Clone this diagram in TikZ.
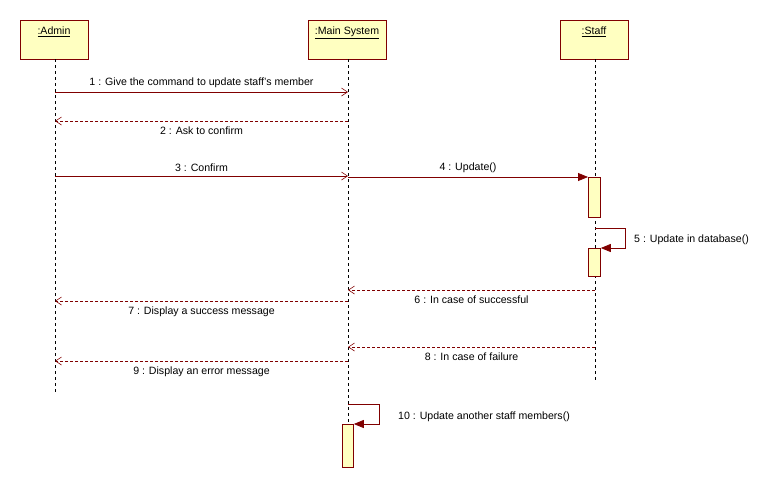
\documentclass[tikz,border=0pt]{standalone}
\usepackage{fontspec}
\setmainfont{Liberation Sans}
\usetikzlibrary{arrows.meta}
\definecolor{umlred}{HTML}{800000}
\definecolor{umlfill}{HTML}{FFFFC1}
\begin{document}
\begin{tikzpicture}[x=1pt,y=-1pt,
  objbox/.style={draw=umlred,fill=umlfill,line width=0.9pt,minimum width=68pt,minimum height=39pt,anchor=north west,inner sep=0pt},
  actbox/.style={draw=umlred,fill=umlfill,line width=0.8pt,inner sep=0pt},
  life/.style={draw=black,line width=0.6pt,dash pattern=on 3pt off 3pt},
  sync/.style={draw=umlred,line width=0.8pt,-{Triangle[length=10pt,width=8pt]}},
  call/.style={draw=umlred,line width=0.8pt,-{Straight Barb[length=6pt,width=8pt,line width=0.6pt]}},
  reply/.style={draw=umlred,line width=0.6pt,dash pattern=on 3pt off 2pt,-{Straight Barb[length=6pt,width=8pt,line width=0.6pt]}},
  lbl/.style={font=\fontsize{10.6}{12}\selectfont,inner sep=0pt},
  ttl/.style={font=\fontsize{10.6}{12}\selectfont,inner sep=0pt,anchor=north}]
\useasboundingbox (0,0) rectangle (771,488);
% objects
\node[objbox] (admin) at (20,20) {};
\node[objbox,minimum width=78pt] (sys) at (308,20) {};
\node[objbox] (staff) at (560,20) {};
\node[ttl] (tadmin) at (54,27) {\underline{:Admin}};
\node[ttl] (tsys) at (347,27) {\underline{:Main System}};
\node[ttl] (tstaff) at (594,27) {\underline{:Staff}};
% lifeline ends
\coordinate (aend) at (55,392);
\coordinate (send) at (348,424);
\coordinate (tend) at (595,381);
\draw[life] (55,59) -- (aend);
\draw[life] (348,59) -- (send);
\draw[life] (595,59) -- (tend);
% activations
\node[actbox,minimum width=12pt,minimum height=40pt,anchor=north west] (act1) at (588,177) {};
\node[actbox,minimum width=12pt,minimum height=28pt,anchor=north west] (act2) at (588,248) {};
\node[actbox,minimum width=11pt,minimum height=43pt,anchor=north west] (act3) at (342,424) {};
% message points
\coordinate (a1) at (55,92);  \coordinate (s1) at (348,92);
\coordinate (a2) at (55,121); \coordinate (s2) at (348,121);
\coordinate (a3) at (55,176); \coordinate (s3) at (348,176);
\coordinate (s4) at (348,177);
\coordinate (t6) at (595,290); \coordinate (s6) at (348,290);
\coordinate (s7) at (348,301); \coordinate (a7) at (55,301);
\coordinate (t8) at (595,347); \coordinate (s8) at (348,347);
\coordinate (s9) at (348,361); \coordinate (a9) at (55,361);
\coordinate (t5) at (595,228);
\coordinate (s10) at (348,404);
% messages
\draw[call] (a1) -- node[lbl,above=4pt] (m1) {1 : Give the command to update staff's member} (s1);
\draw[reply] (s2) -- node[lbl,below=6pt] (m2) {2 : Ask to confirm} (a2);
\draw[call] (a3) -- node[lbl,above=4pt] (m3) {3 : Confirm} (s3);
\draw[sync] (s4) -- node[lbl,above=4pt] (m4) {4 : Update()} (act1.north west);
\draw[sync] (t5) -- (625,228) -- (625,248) -- (act2.north east);
\node[lbl,anchor=west] (m5) at (634,240) {5 : Update in database()};
\draw[reply] (t6) -- node[lbl,below=6pt] (m6) {6 : In case of successful} (s6);
\draw[reply] (s7) -- node[lbl,below=6pt] (m7) {7 : Display a success message} (a7);
\draw[reply] (t8) -- node[lbl,below=6pt] (m8) {8 : In case of failure} (s8);
\draw[reply] (s9) -- node[lbl,below=6pt] (m9) {9 : Display an error message} (a9);
\draw[sync] (s10) -- (379,404) -- (379,424) -- (act3.north east);
\node[lbl,anchor=west] (m10) at (398,417) {10 : Update another staff members()};
\end{tikzpicture}
\end{document}
